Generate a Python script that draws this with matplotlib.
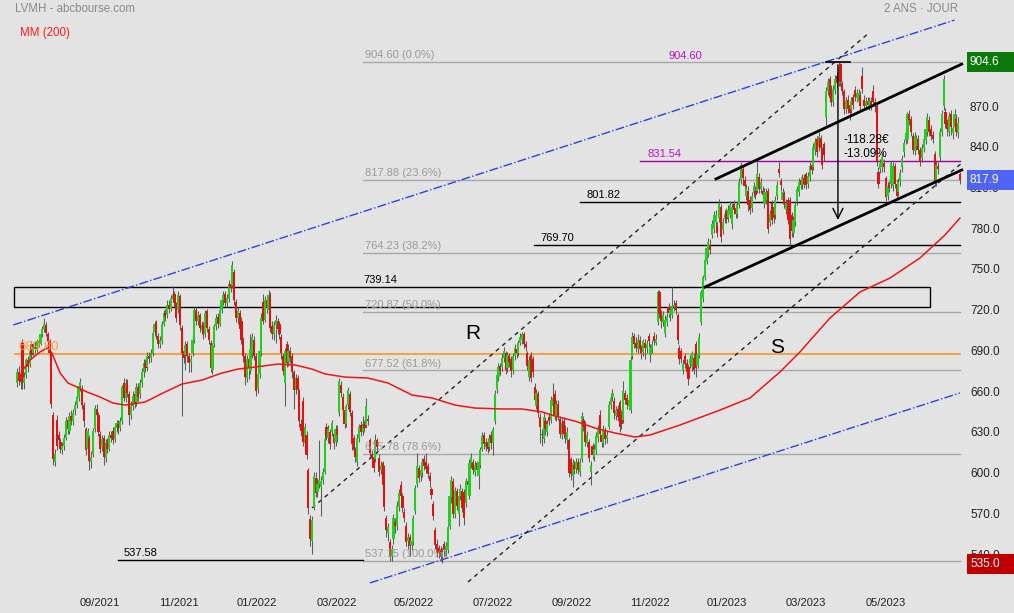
import matplotlib.pyplot as plt
from matplotlib.patches import Rectangle
from matplotlib.transforms import ScaledTranslation

plt.rcParams['font.family'] = ['Liberation Sans', 'DejaVu Sans']

# LVMH daily candles over two years
opens = [
    668, 676, 674, 698, 668, 674, 685, 682, 697, 690,
    695, 693, 699, 697, 704, 708, 711, 704, 699, 690,
    645, 610, 641, 630, 625, 619, 622, 628, 641, 633,
    644, 640, 648, 652, 657, 666, 664, 652, 634, 620,
    628, 610, 616, 634, 649, 645, 631, 622, 628, 613,
    624, 620, 630, 633, 627, 635, 638, 635, 640, 668,
    657, 668, 660, 645, 651, 660, 654, 665, 660, 668,
    676, 683, 680, 688, 687, 690, 706, 713, 703, 697,
    699, 712, 720, 718, 726, 723, 730, 734, 727, 722,
    732, 709, 692, 689, 697, 688, 684, 690, 700, 722,
    714, 718, 707, 711, 704, 721, 708, 698, 678, 697,
    710, 717, 712, 722, 729, 734, 727, 730, 741, 740,
    750, 728, 716, 720, 714, 700, 688, 672, 686, 677,
    690, 700, 688, 664, 675, 690, 728, 715, 729, 722,
    733, 710, 704, 711, 714, 712, 702, 688, 668, 697,
    684, 692, 688, 676, 663, 672, 662, 638, 655, 624,
    630, 604, 568, 552, 577, 598, 588, 594, 592, 597,
    603, 636, 628, 632, 632, 631, 625, 634, 646, 667,
    658, 648, 638, 652, 660, 646, 628, 619, 610, 628,
    637, 632, 638, 637, 642, 626, 616, 614, 612, 626,
    613, 604, 609, 606, 569, 558, 551, 541, 553, 566,
    563, 577, 593, 585, 573, 563, 552, 555, 549, 551,
    574, 594, 606, 600, 602, 612, 610, 607, 600, 590,
    579, 560, 550, 547, 546, 541, 550, 545, 545, 563,
    584, 596, 572, 589, 572, 585, 589, 588, 580, 596,
    585, 609, 610, 603, 609, 600, 608, 620, 630, 621,
    625, 621, 630, 624, 640, 664, 673, 681, 680, 687,
    690, 679, 688, 686, 678, 688, 693, 690, 698, 700,
    704, 697, 690, 673, 689, 686, 665, 652, 660, 643,
    631, 627, 640, 632, 643, 641, 651, 660, 643, 653,
    642, 630, 640, 634, 626, 626, 612, 600, 608, 605,
    610, 603, 612, 641, 637, 624, 625, 603, 622, 614,
    619, 628, 645, 630, 624, 633, 627, 636, 652, 658,
    655, 644, 649, 654, 645, 641, 661, 657, 651, 648,
    688, 703, 698, 693, 700, 694, 691, 698, 694, 703,
    689, 693, 703, 698, 713, 735, 720, 713, 705, 713,
    724, 718, 718, 724, 727, 718, 694, 692, 678, 688,
    683, 680, 682, 680, 687, 697, 681, 689, 713, 731,
    746, 758, 764, 770, 777, 782, 787, 784, 790, 798,
    781, 789, 794, 790, 792, 785, 800, 797, 793, 799,
    818, 826, 818, 806, 810, 803, 797, 808, 810, 810,
    820, 811, 810, 800, 803, 810, 787, 801, 798, 792,
    806, 826, 817, 803, 808, 796, 803, 803, 792, 779,
    787, 802, 809, 818, 814, 819, 822, 815, 820, 829,
    827, 840, 848, 842, 849, 840, 844, 864, 883, 892,
    885, 875, 884, 894, 889, 903, 889, 883, 870, 877,
    873, 870, 879, 884, 878, 876, 880, 894, 877, 872,
    876, 872, 876, 883, 875, 872, 824, 826, 827, 830,
    819, 806, 814, 815, 813, 828, 815, 809, 817, 827,
    838, 847, 848, 866, 863, 850, 839, 843, 848, 840,
    834, 841, 847, 853, 862, 855, 851, 837, 816, 828,
    835, 853, 872, 868, 860, 853, 866, 852, 857, 863, 852, 822,
]
highs = [
    679, 681, 684, 701, 676, 687, 688, 695, 699, 698,
    699, 701, 703, 706, 710, 716, 713, 706, 701, 692,
    647, 620, 645, 633, 628, 625, 631, 643, 644, 647,
    648, 649, 655, 662, 669, 672, 667, 654, 636, 635,
    630, 618, 635, 652, 653, 647, 633, 630, 630, 627,
    628, 633, 633, 636, 638, 641, 641, 643, 667, 672,
    671, 671, 662, 655, 662, 663, 668, 668, 671, 679,
    686, 686, 691, 691, 693, 707, 714, 715, 705, 703,
    714, 722, 723, 729, 729, 733, 740, 736, 728, 736,
    734, 711, 695, 699, 699, 690, 689, 703, 724, 724,
    721, 720, 714, 713, 722, 723, 710, 700, 698, 712,
    719, 720, 725, 732, 736, 736, 734, 744, 745, 758,
    752, 730, 724, 722, 717, 702, 690, 689, 690, 704,
    705, 703, 690, 678, 695, 720, 734, 732, 733, 737,
    735, 714, 714, 718, 716, 714, 704, 690, 694, 699,
    697, 695, 690, 678, 675, 674, 664, 642, 658, 639,
    633, 606, 571, 570, 603, 603, 598, 626, 600, 606,
    630, 639, 637, 634, 641, 633, 637, 637, 672, 670,
    661, 650, 653, 665, 662, 648, 630, 621, 631, 638,
    640, 644, 641, 657, 645, 628, 619, 616, 631, 628,
    616, 611, 611, 608, 571, 565, 553, 549, 572, 569,
    581, 590, 596, 587, 576, 566, 558, 557, 555, 571,
    593, 617, 608, 607, 613, 615, 617, 609, 603, 592,
    581, 562, 553, 549, 548, 547, 552, 551, 568, 587,
    600, 598, 592, 591, 587, 594, 591, 590, 598, 599,
    612, 617, 612, 611, 611, 612, 621, 632, 632, 628,
    628, 631, 633, 636, 663, 676, 683, 683, 690, 695,
    692, 691, 690, 688, 690, 697, 696, 700, 705, 706,
    706, 699, 692, 688, 691, 688, 668, 664, 662, 646,
    634, 646, 643, 641, 646, 659, 668, 663, 656, 656,
    644, 642, 643, 637, 636, 628, 614, 612, 611, 613,
    613, 613, 647, 644, 640, 633, 627, 611, 624, 623,
    632, 637, 648, 633, 637, 636, 633, 655, 660, 664,
    658, 651, 652, 656, 648, 670, 663, 660, 659, 688,
    706, 705, 702, 704, 703, 696, 701, 701, 700, 705,
    697, 700, 706, 704, 737, 737, 722, 721, 718, 720,
    727, 725, 739, 729, 729, 720, 696, 694, 686, 690,
    686, 682, 689, 692, 690, 699, 692, 705, 737, 748,
    761, 770, 775, 774, 788, 795, 796, 787, 804, 800,
    790, 796, 797, 799, 802, 801, 803, 800, 802, 819,
    831, 829, 821, 815, 813, 806, 809, 816, 813, 831,
    823, 819, 813, 812, 812, 812, 796, 803, 801, 806,
    817, 831, 819, 812, 810, 804, 805, 805, 794, 791,
    802, 813, 819, 820, 822, 822, 824, 824, 831, 832,
    845, 849, 850, 853, 851, 842, 846, 886, 893, 894,
    888, 888, 895, 897, 905, 904, 891, 885, 879, 880,
    875, 879, 881, 887, 885, 885, 883, 901, 880, 879,
    879, 879, 879, 888, 878, 874, 827, 833, 838, 833,
    821, 816, 817, 832, 831, 830, 818, 819, 826, 836,
    848, 855, 868, 869, 865, 852, 853, 851, 851, 842,
    844, 851, 858, 867, 865, 858, 854, 839, 832, 831,
    856, 869, 895, 871, 863, 868, 869, 859, 870, 866, 864, 824,
]
lows = [
    665, 667, 664, 664, 664, 672, 676, 680, 686, 688,
    690, 691, 695, 696, 702, 706, 703, 696, 688, 650,
    608, 607, 619, 622, 617, 616, 619, 626, 631, 631,
    637, 637, 645, 650, 655, 662, 649, 636, 615, 617,
    604, 606, 614, 632, 642, 629, 617, 618, 608, 610,
    617, 618, 625, 623, 625, 632, 631, 633, 638, 655,
    654, 658, 637, 642, 648, 650, 651, 655, 657, 665,
    673, 676, 677, 683, 684, 688, 703, 701, 694, 694,
    697, 710, 714, 716, 720, 721, 728, 724, 713, 720,
    707, 644, 683, 678, 684, 676, 676, 688, 698, 711,
    711, 706, 704, 701, 702, 706, 697, 676, 675, 695,
    707, 709, 710, 720, 726, 724, 724, 728, 735, 738,
    726, 713, 712, 705, 697, 684, 667, 669, 671, 675,
    687, 685, 659, 661, 672, 688, 712, 713, 720, 720,
    706, 701, 700, 698, 704, 701, 686, 674, 651, 680,
    681, 683, 672, 649, 660, 659, 636, 629, 622, 621,
    612, 572, 548, 542, 575, 584, 584, 591, 570, 594,
    601, 626, 624, 620, 629, 620, 622, 625, 644, 658,
    645, 635, 636, 649, 644, 619, 615, 610, 607, 625,
    629, 630, 632, 635, 637, 614, 611, 603, 610, 618,
    600, 601, 590, 574, 555, 552, 537, 537, 550, 558,
    560, 574, 582, 573, 566, 548, 546, 541, 545, 549,
    572, 592, 595, 596, 599, 604, 602, 598, 592, 583,
    567, 546, 540, 539, 537, 536, 541, 541, 543, 561,
    580, 569, 569, 575, 563, 582, 573, 564, 577, 590,
    583, 606, 601, 600, 601, 590, 606, 618, 620, 618,
    617, 618, 620, 615, 638, 661, 670, 674, 677, 684,
    675, 676, 680, 673, 675, 685, 687, 688, 696, 697,
    694, 692, 678, 670, 669, 673, 652, 649, 643, 624,
    622, 624, 630, 629, 637, 639, 649, 641, 640, 641,
    628, 627, 628, 624, 620, 599, 597, 592, 601, 602,
    601, 600, 610, 633, 622, 621, 610, 593, 612, 611,
    616, 625, 628, 621, 621, 623, 624, 634, 649, 655,
    642, 641, 640, 632, 634, 639, 653, 649, 648, 646,
    686, 694, 691, 690, 690, 686, 688, 686, 690, 695,
    684, 690, 696, 696, 711, 716, 709, 710, 702, 710,
    717, 714, 716, 721, 719, 697, 682, 683, 675, 679,
    673, 667, 679, 677, 675, 673, 679, 687, 711, 728,
    744, 756, 761, 763, 775, 779, 784, 776, 787, 772,
    778, 786, 786, 787, 790, 782, 793, 790, 790, 797,
    815, 816, 810, 803, 795, 793, 794, 805, 804, 808,
    808, 808, 803, 797, 800, 779, 784, 785, 786, 789,
    803, 820, 810, 800, 797, 793, 785, 767, 776, 776,
    784, 799, 806, 811, 811, 812, 811, 812, 817, 822,
    825, 836, 835, 839, 838, 826, 832, 858, 880, 875,
    872, 872, 881, 886, 887, 887, 880, 866, 867, 867,
    862, 867, 870, 876, 875, 873, 869, 882, 869, 869,
    870, 869, 869, 872, 868, 828, 812, 823, 824, 824,
    802, 803, 809, 812, 810, 812, 803, 806, 813, 824,
    835, 844, 845, 858, 850, 837, 836, 840, 837, 828,
    831, 838, 844, 850, 850, 847, 845, 813, 813, 822,
    832, 850, 869, 856, 850, 850, 851, 848, 854, 850, 849, 815,
]
closes = [
    676, 670, 669, 668, 673, 685, 680, 692, 689, 695,
    693, 699, 697, 704, 708, 712, 705, 699, 690, 653,
    612, 616, 622, 626, 620, 622, 628, 640, 634, 644,
    640, 646, 652, 658, 666, 669, 652, 640, 619, 633,
    611, 614, 633, 650, 645, 632, 620, 627, 614, 624,
    620, 630, 628, 626, 636, 639, 634, 640, 665, 657,
    668, 661, 645, 651, 659, 653, 665, 658, 668, 676,
    683, 679, 688, 686, 690, 705, 712, 704, 697, 700,
    712, 720, 717, 726, 723, 730, 734, 727, 716, 733,
    711, 690, 687, 696, 688, 683, 686, 700, 722, 714,
    718, 709, 711, 704, 720, 709, 700, 679, 696, 710,
    716, 712, 722, 729, 733, 727, 731, 741, 738, 755,
    729, 716, 721, 708, 700, 688, 673, 686, 679, 693,
    702, 688, 662, 675, 692, 716, 714, 729, 724, 733,
    709, 704, 711, 715, 708, 704, 690, 677, 692, 683,
    692, 687, 676, 663, 672, 663, 640, 633, 625, 636,
    615, 576, 553, 567, 600, 587, 594, 597, 596, 603,
    627, 629, 634, 623, 639, 624, 634, 630, 670, 661,
    648, 638, 651, 663, 647, 623, 619, 614, 628, 636,
    632, 638, 635, 651, 640, 617, 614, 606, 626, 621,
    603, 608, 593, 577, 560, 562, 541, 546, 569, 563,
    578, 587, 585, 576, 569, 551, 555, 548, 552, 569,
    591, 607, 598, 604, 610, 607, 605, 601, 596, 586,
    570, 549, 544, 543, 540, 544, 545, 548, 562, 585,
    597, 572, 589, 578, 585, 590, 576, 569, 596, 593,
    609, 614, 604, 608, 604, 610, 619, 629, 623, 625,
    620, 628, 624, 634, 660, 674, 680, 677, 687, 692,
    678, 689, 684, 677, 688, 694, 690, 698, 702, 704,
    697, 695, 681, 685, 672, 676, 656, 661, 646, 636,
    630, 643, 634, 638, 640, 656, 657, 644, 653, 644,
    631, 639, 631, 629, 632, 602, 601, 609, 605, 610,
    604, 610, 644, 636, 625, 630, 613, 608, 615, 620,
    629, 634, 631, 625, 634, 627, 630, 652, 657, 661,
    646, 648, 643, 636, 638, 662, 656, 652, 656, 685,
    702, 697, 694, 700, 693, 690, 699, 694, 697, 699,
    694, 697, 699, 701, 735, 719, 714, 718, 715, 717,
    720, 722, 725, 726, 722, 700, 686, 686, 682, 682,
    676, 671, 686, 690, 678, 679, 689, 702, 735, 746,
    759, 768, 772, 766, 785, 792, 792, 779, 800, 776,
    787, 793, 789, 796, 799, 798, 796, 793, 799, 816,
    829, 819, 813, 812, 799, 796, 806, 813, 807, 822,
    811, 816, 807, 809, 809, 782, 793, 788, 790, 803,
    814, 823, 814, 809, 800, 801, 788, 774, 780, 788,
    799, 811, 816, 814, 819, 815, 814, 821, 828, 825,
    842, 846, 838, 850, 841, 829, 836, 883, 890, 878,
    875, 885, 892, 889, 901, 890, 883, 870, 876, 870,
    867, 876, 873, 879, 882, 882, 872, 885, 872, 876,
    873, 876, 872, 875, 872, 831, 815, 830, 835, 827,
    805, 813, 812, 830, 828, 815, 806, 816, 823, 833,
    845, 852, 866, 862, 853, 840, 850, 848, 840, 831,
    841, 848, 855, 864, 853, 850, 848, 816, 829, 826,
    853, 866, 892, 859, 855, 865, 857, 856, 866, 853, 860, 817.9,
]

# MM (200) as drawn on the chart
ma_pos = [0.6, 3.3, 7.2, 12.7, 16.6, 19.3, 23.8, 28.2, 33.1, 38.7, 45.9, 53.0,
          59.7, 70.7, 81.8, 91.2, 102.2, 113.3, 122.1, 131.5, 144.2, 153.6,
          163.0, 170.2, 181.2, 193.9, 205.0, 218.2, 229.3, 242.0, 253.0, 268.0,
          279.0, 290.1, 297.2, 308.3, 319.3, 330.4, 341.4, 349.7, 366.3, 388.4,
          405.0, 421.5, 432.6, 449.2, 465.7, 482.3, 498.9, 512.7, 521.0]
ma_vals = [670.4, 677.8, 685.2, 691.1, 694.0, 690.3, 675.6, 668.2, 665.3, 661.6,
           657.9, 653.5, 652.0, 654.2, 661.6, 667.5, 670.4, 675.6, 678.5, 680.0,
           682.2, 681.5, 678.5, 674.9, 672.6, 671.9, 668.2, 659.4, 657.2, 652.0,
           649.8, 649.1, 649.1, 646.9, 643.9, 640.2, 635.1, 631.4, 628.5, 629.9,
           637.3, 648.3, 657.2, 676.3, 691.1, 716.1, 735.2, 745.5, 760.3, 777.2,
           789.7]

month_labels = ['09/2021', '11/2021', '01/2022', '03/2022', '05/2022', '07/2022',
                '09/2022', '11/2022', '01/2023', '03/2023', '05/2023']
month_pos = [45.9, 89.5, 132.6, 176.8, 219.3, 263.0, 306.6, 349.7, 392.3, 436.0, 480.1]

fib_levels = [904.60, 817.88, 764.23, 720.87, 677.52, 615.78, 537.15]
fib_pcts = ['0.0%', '23.6%', '38.2%', '50.0%', '61.8%', '78.6%', '100.0%']

price_ticks = [540, 570, 600, 630, 660, 690, 720, 750, 780, 810, 840, 870]

W, H = 1014, 613
bg = '#e3e3e3'
fig = plt.figure(figsize=(W / 100, H / 100), dpi=100, facecolor=bg)
ax = fig.add_axes([0, 23 / H, 965 / W, 590 / H])
ax.set_facecolor(bg)
ax.set_xlim(-9.39, 523.8)
ax.set_ylim(515.8, 950.3)
for s in ax.spines.values():
    s.set_visible(False)

last = len(closes) - 1

# candles
xs = list(range(len(closes)))
colors = ['#1fd01f' if c >= o else '#e31212' for o, c in zip(opens, closes)]
bottoms = [min(o, c) for o, c in zip(opens, closes)]
heights = [max(abs(c - o), 0.8) for o, c in zip(opens, closes)]
ax.vlines(xs, lows, highs, color='#5c5c5c', linewidth=0.75, zorder=3)
ax.bar(xs, heights, bottom=bottoms, width=1.2, color=colors, linewidth=0, zorder=4)

# moving average
ax.plot(ma_pos, ma_vals, color='#ee1515', linewidth=1.1, zorder=5)

# fibonacci retracement
for lv, pct in zip(fib_levels, fib_pcts):
    ax.plot([191.2, last], [lv, lv], color='#a8a8a8', linewidth=1, zorder=2)
    ax.text(192.3, lv + 1.4, '%.2f (%s)' % (lv, pct), color='#9a9a9a',
            fontsize=8, va='bottom', zorder=6)
ax.text(359.7, 909, '904.60', color='#c010c0', fontsize=8, va='center', zorder=6)

# horizontal levels
ax.plot([55.8, 191.2], [537.58, 537.58], color='black', linewidth=1, zorder=2)
ax.text(59.1, 539.4, '537.58', fontsize=8, va='bottom', zorder=6)
ax.plot([285.6, last], [769.70, 769.70], color='black', linewidth=1, zorder=2)
ax.text(289.0, 771.3, '769.70', fontsize=8, va='bottom', zorder=6)
ax.plot([311.0, last], [801.82, 801.82], color='black', linewidth=1, zorder=2)
ax.text(314.4, 803.0, '801.82', fontsize=8, va='bottom', zorder=6)
ax.plot([344.2, last], [831.54, 831.54], color='#a000a0', linewidth=1, zorder=2)
ax.text(348.6, 833.2, '831.54', color='#c010c0', fontsize=8, va='bottom', zorder=6)
ax.plot([-1.1, last], [689.6, 689.6], color='#ff8c1a', linewidth=1.1, zorder=2)
ax.text(0.6, 690.6, '689.80', color='#f5a040', fontsize=9.5, va='bottom', zorder=6)

# resistance box
ax.add_patch(Rectangle((-1.66, 724.2), 506.0, 14.94, fill=False,
                       edgecolor='black', linewidth=1, zorder=2))
ax.text(191.2, 740.4, '739.14', fontsize=8, va='bottom', zorder=6)

# channels
ax.plot([-2, 518], [711.0, 935.5], color='#3040e0', linewidth=1, linestyle='-.', zorder=2)
ax.plot([195, 521], [521.0, 660.9], color='#3040e0', linewidth=1, linestyle='-.', zorder=2)
ax.plot([163, 471.3], [576.2, 926.7], color='#222222', linewidth=1, dashes=(3, 3), zorder=2)
ax.plot([249.2, 522], [521.7, 830.2], color='#222222', linewidth=1, dashes=(3, 3), zorder=2)
ax.plot([386.2, 522], [818.5, 903.1], color='black', linewidth=2, zorder=6)
ax.plot([380.1, 522], [738.9, 825.1], color='black', linewidth=2, zorder=6)

# drop measurement
ax.plot([447, 460], [904.6, 904.6], color='black', linewidth=1.2, zorder=6)
ax.annotate('', xy=(453.6, 786.3), xytext=(453.6, 904.6),
            arrowprops=dict(arrowstyle='->', color='black', lw=1, mutation_scale=18), zorder=6)
ax.text(456.4, 847.2, '-118.28€', fontsize=8.5, va='center', zorder=7)
ax.text(456.4, 836.9, '-13.09%', fontsize=8.5, va='center', zorder=7)

ax.text(252, 705, 'R', fontsize=15, ha='center', va='center', zorder=7)
ax.text(420, 694.7, 'S', fontsize=15, ha='center', va='center', zorder=7)

# axes ticks
ax.yaxis.tick_right()
ax.set_yticks(price_ticks)
ax.set_yticklabels(['%.1f' % v for v in price_ticks])
ax.tick_params(axis='y', length=0, pad=3.6, labelsize=8.5, labelcolor='#222222')
lift = ScaledTranslation(0, 3 / 100, fig.dpi_scale_trans)
for lab in ax.get_yticklabels():
    lab.set_transform(lab.get_transform() + lift)
ax.set_xticks(month_pos)
ax.set_xticklabels(month_labels)
ax.tick_params(axis='x', length=0, pad=6, labelsize=8, labelcolor='#222222')

# price boxes on the right
fig.canvas.draw()
for val, txt, col in [(904.6, '904.6', '#0b7a0b'), (817.9, '817.9', '#4f63f5'),
                      (535.0, '535.0', '#c00000')]:
    yd = ax.transData.transform((0, val))[1]
    fig.add_artist(Rectangle((967 / W, (yd - 10) / H), 47 / W, 20 / H,
                             transform=fig.transFigure, facecolor=col,
                             edgecolor='none', zorder=5))
    fig.text(970 / W, yd / H, txt, color='white', fontsize=8.5, va='center', zorder=6)

fig.text(15 / W, 1 - 9 / H, 'LVMH - abcbourse.com', color='#8a8a8a', fontsize=8.3, va='center')
fig.text(20 / W, 1 - 33 / H, 'MM (200)', color='#ff1a1a', fontsize=8.3, va='center')
fig.text(958 / W, 1 - 9 / H, '2 ANS · JOUR', color='#8a8a8a', fontsize=8.3,
         va='center', ha='right')

fig.savefig('out.png', dpi=100, facecolor=bg)
